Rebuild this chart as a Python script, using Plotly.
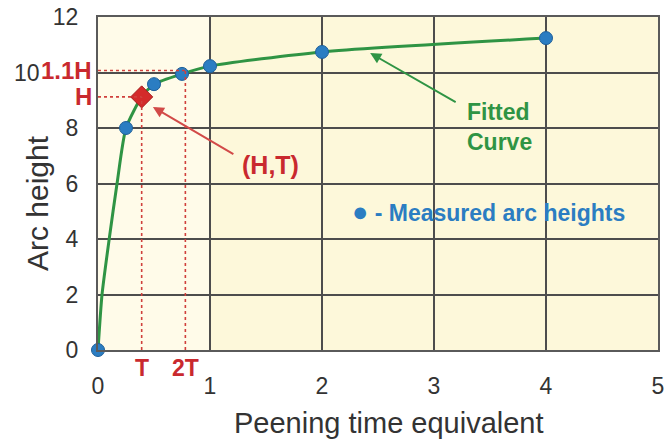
import plotly.graph_objects as go

# Measured arc heights
meas_x = [0, 0.25, 0.5, 0.75, 1, 2, 4]
meas_y = [0, 8.0, 9.58, 9.95, 10.23, 10.74, 11.24]

# Fitted curve
fit_x = [0, 0.036, 0.1, 0.17, 0.25, 0.39, 0.5, 0.75, 1, 2, 4]
fit_y = [0, 2.0, 4.0, 6.0, 8.0, 9.12, 9.58, 9.95, 10.23, 10.74, 11.24]

# Saturation point
T = 0.39
H = 9.12
H11 = 10.07
T2 = 0.78

y_ticks = [0, 2, 4, 6, 8, 10, 12]
x_ticks = [0, 1, 2, 3, 4, 5]

RED = "#c9292e"
GREEN = "#2f9444"
BLUE = "#2b7dc2"
GRID = "#4d4d4d"
FONT = "Liberation Sans, Arial, sans-serif"

fig = go.Figure()

fig.add_trace(go.Scatter(
    x=fit_x, y=fit_y, mode="lines",
    line=dict(color=GREEN, width=3, shape="spline", smoothing=0.6),
    hoverinfo="skip", cliponaxis=False,
))
fig.add_trace(go.Scatter(
    x=meas_x, y=meas_y, mode="markers",
    marker=dict(color=BLUE, size=13, line=dict(color="#1f5f99", width=1)),
    cliponaxis=False,
))
fig.add_trace(go.Scatter(
    x=[T], y=[H], mode="markers",
    marker=dict(color="#d42a2a", size=17, symbol="diamond",
                line=dict(color="#a51d1d", width=1)),
    cliponaxis=False,
))

shapes = [
    dict(type="rect", xref="x", yref="y", x0=0, x1=1, y0=0, y1=12,
         fillcolor="#fffbe9", line=dict(width=0), layer="below"),
]
dot = dict(color="#d0403c", width=1.6, dash="dot")
shapes += [
    dict(type="line", xref="x", yref="y", x0=0, x1=T, y0=H, y1=H, line=dot),
    dict(type="line", xref="x", yref="y", x0=T, x1=T, y0=0, y1=H, line=dot),
    dict(type="line", xref="x", yref="y", x0=0, x1=T2, y0=H11, y1=H11, line=dot),
    dict(type="line", xref="x", yref="y", x0=T2, x1=T2, y0=0, y1=H11, line=dot),
]

# the "10" tick label is drawn as an annotation (shifted left by the 1.1H label)
ticktext_y = ["" if v == 10 else str(v) for v in y_ticks]

annotations = [
    dict(x=-0.1, y=10, xref="paper", yref="y", text="10", showarrow=False,
         xanchor="right", font=dict(size=23, color="#333333", family=FONT)),
    dict(x=0, y=H11, xref="x", yref="y", text="<b>1.1H</b>", showarrow=False,
         xanchor="right", xshift=-4, font=dict(size=24, color=RED, family=FONT)),
    dict(x=0, y=H, xref="x", yref="y", text="<b>H</b>", showarrow=False,
         xanchor="right", xshift=-4, font=dict(size=24, color=RED, family=FONT)),
    dict(x=T, y=0, xref="x", yref="y", text="<b>T</b>", showarrow=False,
         yanchor="middle", yshift=-18, font=dict(size=23, color=RED, family=FONT)),
    dict(x=T2, y=0, xref="x", yref="y", text="<b>2T</b>", showarrow=False,
         yanchor="middle", yshift=-18, font=dict(size=23, color=RED, family=FONT)),
    dict(x=1.27, y=6.67, xref="x", yref="y", text="<b>(H,T)</b>", showarrow=False,
         xanchor="left", font=dict(size=25, color=RED, family=FONT)),
    dict(x=0.49, y=8.76, xref="x", yref="y", text="", showarrow=True,
         ax=82, ay=48, arrowhead=2, arrowsize=1.1, arrowwidth=2, arrowcolor="#d24a48"),
    dict(x=3.28, y=8.02, xref="x", yref="y", text="<b>Fitted<br>Curve</b>", showarrow=False,
         xanchor="left", align="left", font=dict(size=23, color=GREEN, family=FONT)),
    dict(x=2.43, y=10.70, xref="x", yref="y", text="", showarrow=True,
         ax=87, ay=50, arrowhead=2, arrowsize=1.1, arrowwidth=2, arrowcolor=GREEN),
    dict(x=2.25, y=4.97, xref="x", yref="y",
         text="<b><span style='font-size:27px'>●</span> - Measured arc heights</b>",
         showarrow=False, xanchor="left",
         font=dict(size=23, color=BLUE, family=FONT)),
    dict(x=2.6, y=-0.22, xref="x", yref="paper", text="Peening time equivalent",
         showarrow=False, xanchor="center", yanchor="middle",
         font=dict(size=29, color="#333333", family=FONT)),
    dict(x=-0.107, y=5.3, xref="paper", yref="y", text="Arc height",
         showarrow=False, textangle=-90, xanchor="center", yanchor="middle",
         font=dict(size=30, color="#333333", family=FONT)),
]

fig.update_layout(
    width=669, height=439,
    margin=dict(l=98, r=11, t=17, b=89, autoexpand=False),
    paper_bgcolor="white",
    plot_bgcolor="#fdf8da",
    showlegend=False,
    shapes=shapes,
    annotations=annotations,
    font=dict(family=FONT, color="#333333"),
)
fig.update_xaxes(
    range=[0, 5], tickvals=x_ticks, ticktext=[str(v) for v in x_ticks],
    showgrid=True, gridcolor=GRID, gridwidth=1.5, zeroline=False,
    showline=True, linecolor="#5a5a5a", linewidth=2, mirror=True,
    ticks="outside", ticklen=0, ticklabelstandoff=14, automargin=False,
    tickfont=dict(size=23, color="#333333", family=FONT),
)
fig.update_yaxes(
    range=[0, 12], tickvals=y_ticks, ticktext=ticktext_y,
    showgrid=True, gridcolor=GRID, gridwidth=1.5, zeroline=False,
    showline=True, linecolor="#5a5a5a", linewidth=2, mirror=True,
    ticks="outside", ticklen=0, ticklabelstandoff=13, automargin=False,
    tickfont=dict(size=23, color="#333333", family=FONT),
)

fig.write_html("out.html")
